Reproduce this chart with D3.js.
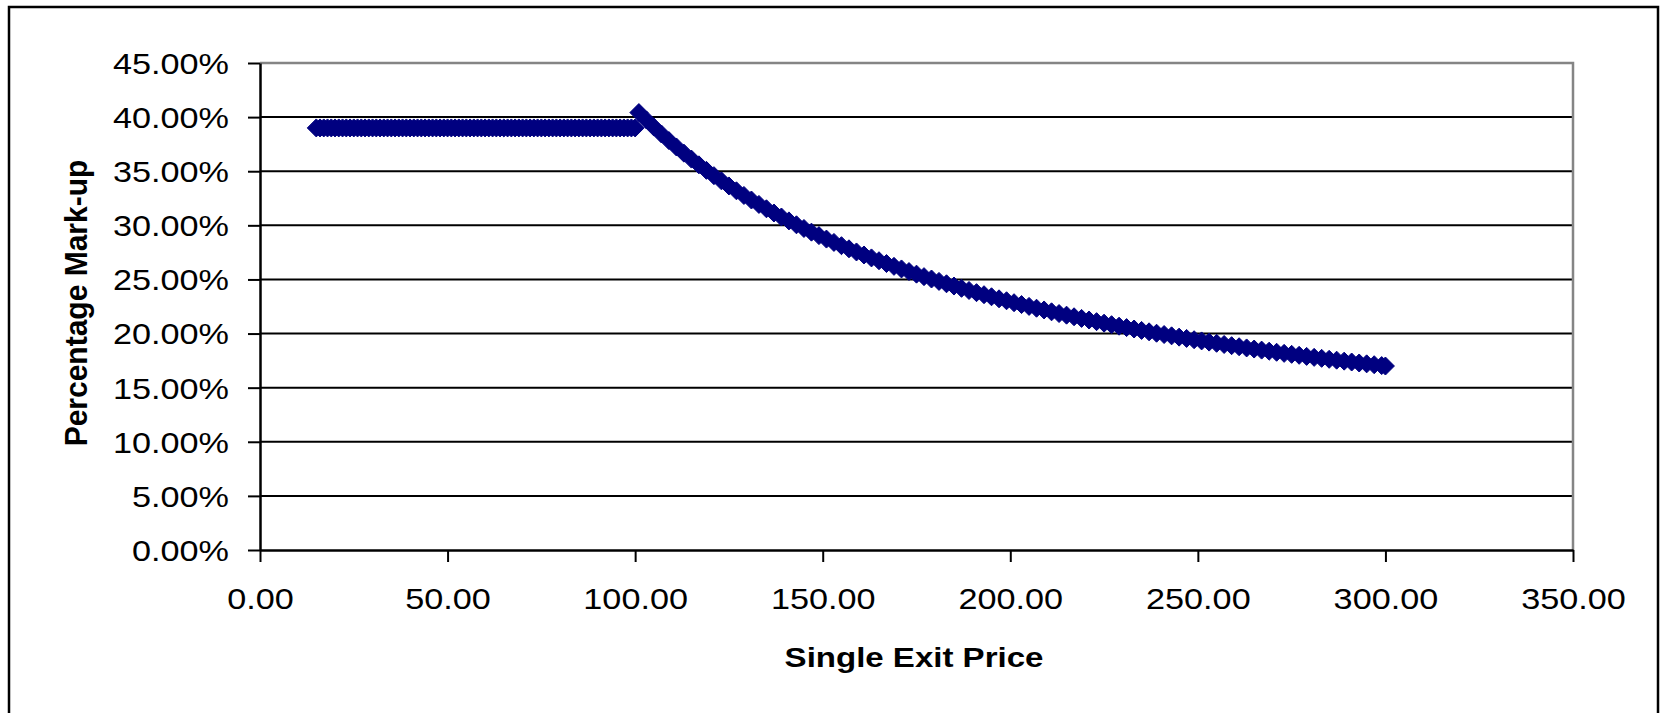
<!DOCTYPE html>
<html>
<head>
<meta charset="utf-8">
<script src="https://cdn.jsdelivr.net/npm/d3@7"></script>
<style>
  html, body { margin: 0; padding: 0; background: #fff; }
  svg { display: block; }
  text { font-family: "Liberation Sans", Arial, sans-serif; fill: #000; }
</style>
</head>
<body>
<svg id="chart" width="1660" height="713"></svg>
<script>
// Flat mark-up band for prices up to 100
const flatPrice = [15, 16, 17, 18, 19, 20, 21, 22, 23, 24, 25, 26, 27, 28, 29, 30, 31, 32, 33, 34,
  35, 36, 37, 38, 39, 40, 41, 42, 43, 44, 45, 46, 47, 48, 49, 50, 51, 52, 53, 54, 55, 56, 57, 58,
  59, 60, 61, 62, 63, 64, 65, 66, 67, 68, 69, 70, 71, 72, 73, 74, 75, 76, 77, 78, 79, 80, 81, 82,
  83, 84, 85, 86, 87, 88, 89, 90, 91, 92, 93, 94, 95, 96, 97, 98, 99, 100];
const flatMarkup = [39, 39, 39, 39, 39, 39, 39, 39, 39, 39, 39, 39, 39, 39, 39, 39, 39, 39, 39, 39,
  39, 39, 39, 39, 39, 39, 39, 39, 39, 39, 39, 39, 39, 39, 39, 39, 39, 39, 39, 39, 39, 39, 39, 39,
  39, 39, 39, 39, 39, 39, 39, 39, 39, 39, 39, 39, 39, 39, 39, 39, 39, 39, 39, 39, 39, 39, 39, 39,
  39, 39, 39, 39, 39, 39, 39, 39, 39, 39, 39, 39, 39, 39, 39, 39, 39, 39];

// Declining mark-up above 100
const curvePrice = [101, 103, 105, 107, 109, 111, 113, 115, 117, 119, 121, 123, 125, 127, 129,
  131, 133, 135, 137, 139, 141, 143, 145, 147, 149, 151, 153, 155, 157, 159, 161, 163, 165, 167,
  169, 171, 173, 175, 177, 179, 181, 183, 185, 187, 189, 191, 193, 195, 197, 199, 201, 203, 205,
  207, 209, 211, 213, 215, 217, 219, 221, 223, 225, 227, 229, 231, 233, 235, 237, 239, 241, 243,
  245, 247, 249, 251, 253, 255, 257, 259, 261, 263, 265, 267, 269, 271, 273, 275, 277, 279, 281,
  283, 285, 287, 289, 291, 293, 295, 297, 299, 300];
const curveMarkup = [40.42, 39.74, 39.08, 38.44, 37.83, 37.24, 36.67, 36.12, 35.59, 35.08, 34.59,
  34.11, 33.64, 33.19, 32.76, 32.34, 31.93, 31.53, 31.14, 30.77, 30.41, 30.05, 29.71, 29.37, 29.05,
  28.73, 28.42, 28.12, 27.83, 27.54, 27.26, 26.99, 26.73, 26.47, 26.21, 25.97, 25.73, 25.49, 25.26,
  25.04, 24.82, 24.60, 24.39, 24.18, 23.98, 23.78, 23.59, 23.40, 23.21, 23.03, 22.85, 22.68, 22.51,
  22.34, 22.18, 22.01, 21.85, 21.70, 21.55, 21.40, 21.25, 21.10, 20.96, 20.82, 20.68, 20.55, 20.42,
  20.29, 20.16, 20.03, 19.91, 19.79, 19.67, 19.55, 19.43, 19.32, 19.21, 19.10, 18.99, 18.88, 18.78,
  18.67, 18.57, 18.47, 18.37, 18.27, 18.17, 18.08, 17.99, 17.89, 17.80, 17.71, 17.62, 17.54, 17.45,
  17.37, 17.28, 17.20, 17.12, 17.04, 17.00];

const xTicks = [0, 50, 100, 150, 200, 250, 300, 350];
const yTicks = [0, 5, 10, 15, 20, 25, 30, 35, 40, 45];
const xTitle = "Single Exit Price";
const yTitle = "Percentage Mark-up";

const svg = d3.select("#chart");
const plot = { left: 260, top: 63, right: 1573, bottom: 550 };
const stretch = 1.18;

const x = d3.scaleLinear().domain([0, 350]).range([plot.left, plot.right]);
const y = d3.scaleLinear().domain([0, 45]).range([plot.bottom, plot.top]);

// Outer chart border
svg.append("rect")
  .attr("x", 9).attr("y", 7).attr("width", 1649).attr("height", 720)
  .attr("fill", "none").attr("stroke", "#000").attr("stroke-width", 2.5);

// Horizontal gridlines
svg.append("g").selectAll("line")
  .data(yTicks.filter(v => v > 0 && v < 45))
  .join("line")
  .attr("x1", plot.left).attr("x2", plot.right)
  .attr("y1", d => y(d)).attr("y2", d => y(d))
  .attr("stroke", "#000").attr("stroke-width", 2);

// Plot area border (top and right)
svg.append("path")
  .attr("d", `M${plot.left},${plot.top}H${plot.right}V${plot.bottom}`)
  .attr("fill", "none").attr("stroke", "#858585").attr("stroke-width", 2.5);

// Y axis
const yAxis = svg.append("g")
  .attr("transform", `translate(${plot.left},0)`)
  .call(d3.axisLeft(y).tickValues(yTicks).tickSize(12).tickSizeOuter(0)
    .tickFormat(d => d.toFixed(2) + "%"));
yAxis.select(".domain").attr("stroke", "#000").attr("stroke-width", 2.5);
yAxis.selectAll(".tick line").attr("stroke", "#000").attr("stroke-width", 2);
yAxis.selectAll(".tick text")
  .attr("font-family", null).attr("font-size", 29)
  .attr("x", -31 / stretch).attr("dy", "0.36em")
  .attr("transform", `scale(${stretch},1)`);

// X axis
const xAxis = svg.append("g")
  .attr("transform", `translate(0,${plot.bottom})`)
  .call(d3.axisBottom(x).tickValues(xTicks).tickSize(12).tickSizeOuter(0)
    .tickFormat(d => d.toFixed(2)));
xAxis.select(".domain").attr("stroke", "#000").attr("stroke-width", 2.5);
xAxis.selectAll(".tick line").attr("stroke", "#000").attr("stroke-width", 2);
xAxis.selectAll(".tick text")
  .attr("font-family", null).attr("font-size", 29)
  .attr("y", 59).attr("dy", 0)
  .attr("transform", `scale(${stretch},1)`);

// Axis titles
svg.append("text")
  .attr("transform", `translate(914,667) scale(${stretch},1)`)
  .attr("text-anchor", "middle")
  .attr("font-size", 28).attr("font-weight", "bold")
  .text(xTitle);

svg.append("text")
  .attr("transform", `translate(87,303) scale(1.05,1) rotate(-90)`)
  .attr("text-anchor", "middle")
  .attr("font-size", 30).attr("font-weight", "bold")
  .text(yTitle);

// Diamond markers
const points = flatPrice.map((p, i) => ({ p, m: flatMarkup[i] }))
  .concat(curvePrice.map((p, i) => ({ p, m: curveMarkup[i] })));
const diamond = "M0,-9L9,0L0,9L-9,0Z";
svg.append("g").selectAll("path")
  .data(points)
  .join("path")
  .attr("d", diamond)
  .attr("transform", d => `translate(${x(d.p)},${y(d.m)})`)
  .attr("fill", "#000080")
  .attr("stroke", "#000080").attr("stroke-width", 1);
</script>
</body>
</html>
